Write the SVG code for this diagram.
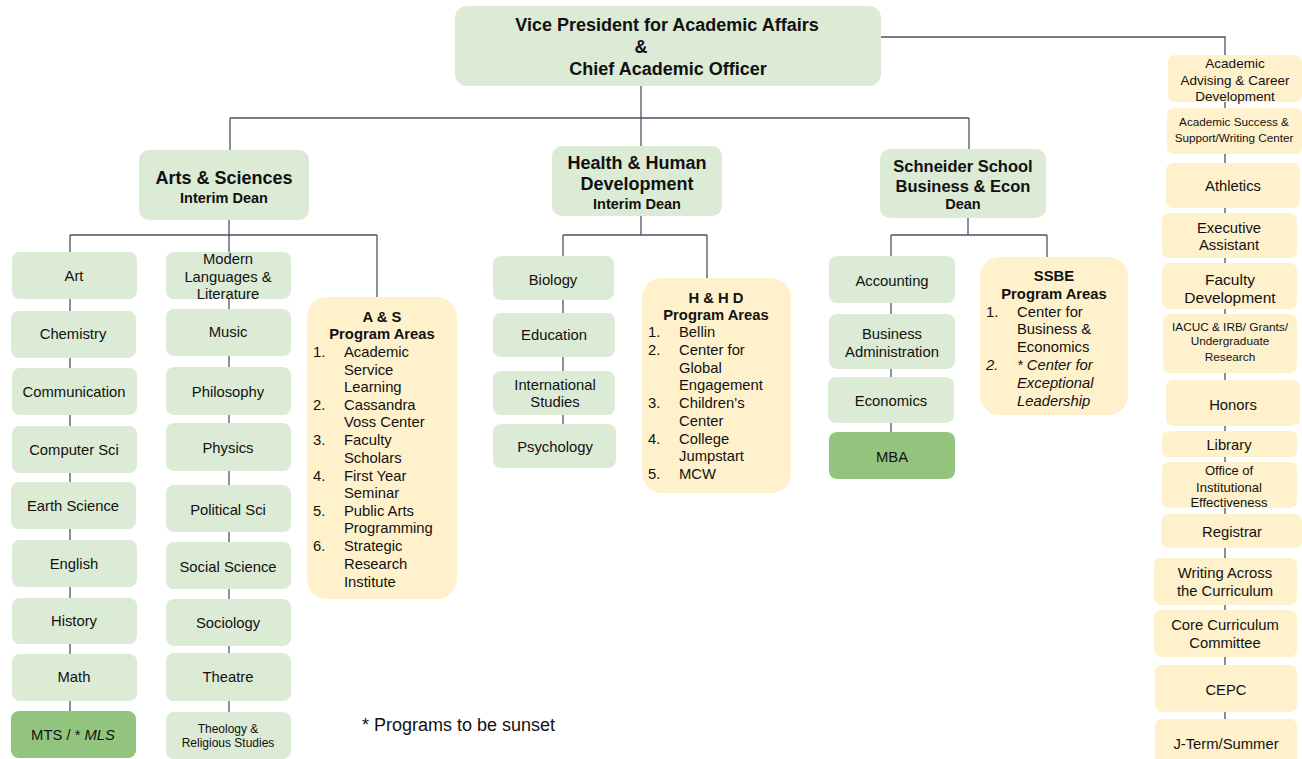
<svg xmlns="http://www.w3.org/2000/svg" width="1302" height="759" viewBox="0 0 1302 759">
<style>
text{font-family:"Liberation Sans",Arial,sans-serif;fill:#111111;text-anchor:middle;dominant-baseline:central}
.g{fill:#dcebd5}
.d{fill:#93c47d}
.y{fill:#fff1cc}
.b{font-weight:bold}
.l{text-anchor:start}
.i{font-style:italic}
.c{fill:none;stroke:#4a5364;stroke-width:1.3}
</style>
<rect width="1302" height="759" fill="#ffffff"/>
<g id="connectors" class="c">
<path d="M881 37H1225V759"/>
<path d="M641 86V118M230 118H969M230 118V150M641 118V146M969 118V149"/>
<path d="M229 220V235M70 235H377M70 235V711M229 235V712M377 235V297"/>
<path d="M641 216V235M563 235H707M563 235V424M707 235V278"/>
<path d="M968 218V235M891 235H1047M891 235V432M1047 235V257"/>
</g>
<g id="vpaa"><rect class="g" x="455" y="6" width="426" height="80" rx="12"/>
<text class="b" x="667" y="25" font-size="18">Vice President for Academic Affairs</text>
<text class="b" x="641" y="47" font-size="18">&amp;</text>
<text class="b" x="668" y="69" font-size="18">Chief Academic Officer</text></g>
<g id="as"><rect class="g" x="139" y="150" width="170" height="70" rx="10"/>
<text class="b" x="224" y="178" font-size="18">Arts &amp; Sciences</text>
<text class="b" x="224" y="198" font-size="14.5">Interim Dean</text></g>
<g id="hhd"><rect class="g" x="552" y="146" width="170" height="70" rx="10"/>
<text class="b" x="637" y="163" font-size="18">Health &amp; Human</text>
<text class="b" x="637" y="184" font-size="18">Development</text>
<text class="b" x="637" y="204" font-size="14.5">Interim Dean</text></g>
<g id="ssbe-dean"><rect class="g" x="880" y="149" width="166" height="69" rx="10"/>
<text class="b" x="963" y="166" font-size="16.5">Schneider School</text>
<text class="b" x="963" y="186" font-size="16.5">Business &amp; Econ</text>
<text class="b" x="963" y="204" font-size="14.5">Dean</text></g>
<g font-size="14.8">
<g id="art"><rect class="g" x="12" y="252" width="125" height="47" rx="8"/><text x="74" y="276">Art</text></g>
<g id="chem"><rect class="g" x="11" y="311" width="125" height="47" rx="8"/><text x="73" y="334">Chemistry</text></g>
<g id="comm"><rect class="g" x="12" y="368" width="125" height="47" rx="8"/><text x="74" y="392">Communication</text></g>
<g id="cs"><rect class="g" x="12" y="426" width="125" height="47" rx="8"/><text x="74" y="450">Computer Sci</text></g>
<g id="earth"><rect class="g" x="11" y="482" width="125" height="47" rx="8"/><text x="73" y="506">Earth Science</text></g>
<g id="english"><rect class="g" x="12" y="540" width="125" height="47" rx="8"/><text x="74" y="564">English</text></g>
<g id="history"><rect class="g" x="12" y="598" width="125" height="46" rx="8"/><text x="74" y="621">History</text></g>
<g id="math"><rect class="g" x="12" y="654" width="125" height="47" rx="8"/><text x="74" y="677">Math</text></g>
<g id="mts"><rect class="d" x="11" y="711" width="125" height="47" rx="8"/><text x="73" y="735">MTS / * <tspan class="i">MLS</tspan></text></g>
<g id="modlang"><rect class="g" x="166" y="252" width="125" height="47" rx="8"/><text x="228" y="259">Modern</text><text x="228" y="277">Languages &amp;</text><text x="228" y="294">Literature</text></g>
<g id="music"><rect class="g" x="166" y="309" width="125" height="47" rx="8"/><text x="228" y="332">Music</text></g>
<g id="phil"><rect class="g" x="166" y="367" width="125" height="48" rx="8"/><text x="228" y="392">Philosophy</text></g>
<g id="physics"><rect class="g" x="166" y="423" width="125" height="48" rx="8"/><text x="228" y="448">Physics</text></g>
<g id="polisci"><rect class="g" x="166" y="485" width="125" height="47" rx="8"/><text x="228" y="510">Political Sci</text></g>
<g id="socsci"><rect class="g" x="166" y="542" width="125" height="47" rx="8"/><text x="228" y="567">Social Science</text></g>
<g id="soc"><rect class="g" x="166" y="599" width="125" height="47" rx="8"/><text x="228" y="623">Sociology</text></g>
<g id="theatre"><rect class="g" x="166" y="653" width="125" height="48" rx="8"/><text x="228" y="677">Theatre</text></g>
<g id="theology"><rect class="g" x="166" y="712" width="125" height="47" rx="8"/><text x="228" y="729" font-size="12">Theology &amp;</text><text x="228" y="743" font-size="12">Religious Studies</text></g>
<g id="as-prog"><rect class="y" x="307" y="297" width="150" height="302" rx="20"/>
<text class="b" x="382" y="317">A &amp; S</text><text class="b" x="382" y="334">Program Areas</text>
<text class="l" x="313" y="352">1.</text><text class="l" x="344" y="352">Academic</text><text class="l" x="344" y="370">Service</text><text class="l" x="344" y="387">Learning</text>
<text class="l" x="313" y="405">2.</text><text class="l" x="344" y="405">Cassandra</text><text class="l" x="344" y="422">Voss Center</text>
<text class="l" x="313" y="440">3.</text><text class="l" x="344" y="440">Faculty</text><text class="l" x="344" y="458">Scholars</text>
<text class="l" x="313" y="476">4.</text><text class="l" x="344" y="476">First Year</text><text class="l" x="344" y="493">Seminar</text>
<text class="l" x="313" y="511">5.</text><text class="l" x="344" y="511">Public Arts</text><text class="l" x="344" y="528">Programming</text>
<text class="l" x="313" y="546">6.</text><text class="l" x="344" y="546">Strategic</text><text class="l" x="344" y="564">Research</text><text class="l" x="344" y="582">Institute</text></g>
<g id="bio"><rect class="g" x="493" y="256" width="121" height="44" rx="8"/><text x="553" y="280">Biology</text></g>
<g id="edu"><rect class="g" x="493" y="313" width="122" height="44" rx="8"/><text x="554" y="335">Education</text></g>
<g id="intl"><rect class="g" x="493" y="371" width="122" height="44" rx="8"/><text x="555" y="385">International</text><text x="555" y="402">Studies</text></g>
<g id="psych"><rect class="g" x="493" y="424" width="123" height="44" rx="8"/><text x="555" y="447">Psychology</text></g>
<g id="hhd-prog"><rect class="y" x="642" y="278" width="149" height="215" rx="20"/>
<text class="b" x="716" y="298">H &amp; H D</text><text class="b" x="716" y="315">Program Areas</text>
<text class="l" x="648" y="332">1.</text><text class="l" x="679" y="332">Bellin</text>
<text class="l" x="648" y="350">2.</text><text class="l" x="679" y="350">Center for</text><text class="l" x="679" y="368">Global</text><text class="l" x="679" y="385">Engagement</text>
<text class="l" x="648" y="403">3.</text><text class="l" x="679" y="403">Children’s</text><text class="l" x="679" y="421">Center</text>
<text class="l" x="648" y="439">4.</text><text class="l" x="679" y="439">College</text><text class="l" x="679" y="456">Jumpstart</text>
<text class="l" x="648" y="474">5.</text><text class="l" x="679" y="474">MCW</text></g>
<g id="acct"><rect class="g" x="829" y="256" width="126" height="47" rx="8"/><text x="892" y="281">Accounting</text></g>
<g id="busadm"><rect class="g" x="829" y="314" width="126" height="55" rx="8"/><text x="892" y="334">Business</text><text x="892" y="352">Administration</text></g>
<g id="econ"><rect class="g" x="828" y="377" width="126" height="46" rx="8"/><text x="891" y="401">Economics</text></g>
<g id="mba"><rect class="d" x="829" y="432" width="126" height="47" rx="8"/><text x="892" y="457">MBA</text></g>
<g id="ssbe-prog"><rect class="y" x="980" y="257" width="148" height="158" rx="20"/>
<text class="b" x="1054" y="276">SSBE</text><text class="b" x="1054" y="294">Program Areas</text>
<text class="l" x="986" y="312">1.</text><text class="l" x="1017" y="312">Center for</text><text class="l" x="1017" y="329">Business &amp;</text><text class="l" x="1017" y="347">Economics</text>
<text class="l i" x="986" y="365">2.</text><text class="l i" x="1017" y="365">* Center for</text><text class="l i" x="1017" y="383">Exceptional</text><text class="l i" x="1017" y="401">Leadership</text></g>
<g id="advising"><rect class="y" x="1168" y="55" width="134" height="47" rx="7"/><text x="1235" y="63" font-size="13.5">Academic</text><text x="1235" y="80" font-size="13.5">Advising &amp; Career</text><text x="1235" y="96" font-size="13.5">Development</text></g>
<g id="success"><rect class="y" x="1167" y="108" width="135" height="46" rx="7"/><text x="1234" y="121" font-size="11.7">Academic Success &amp;</text><text x="1234" y="137" font-size="11.7">Support/Writing Center</text></g>
<g id="athletics"><rect class="y" x="1166" y="163" width="134" height="45" rx="7"/><text x="1233" y="186">Athletics</text></g>
<g id="exec"><rect class="y" x="1162" y="213" width="135" height="45" rx="7"/><text x="1229" y="228">Executive</text><text x="1229" y="245">Assistant</text></g>
<g id="facdev"><rect class="y" x="1162" y="263" width="135" height="46" rx="7"/><text x="1230" y="279" font-size="15.5">Faculty</text><text x="1230" y="297" font-size="15.5">Development</text></g>
<g id="iacuc"><rect class="y" x="1163" y="314" width="134" height="59" rx="7"/><text x="1230" y="327" font-size="11.8">IACUC &amp; IRB/ Grants/</text><text x="1230" y="341" font-size="11.8">Undergraduate</text><text x="1230" y="357" font-size="11.8">Research</text></g>
<g id="honors"><rect class="y" x="1166" y="380" width="134" height="46" rx="7"/><text x="1233" y="405">Honors</text></g>
<g id="library"><rect class="y" x="1162" y="431" width="135" height="26" rx="6"/><text x="1229" y="445">Library</text></g>
<g id="oie"><rect class="y" x="1162" y="462" width="135" height="46" rx="7"/><text x="1229" y="470" font-size="13">Office of</text><text x="1229" y="487" font-size="13">Institutional</text><text x="1229" y="502" font-size="13">Effectiveness</text></g>
<g id="registrar"><rect class="y" x="1161" y="514" width="141" height="34" rx="7"/><text x="1232" y="532">Registrar</text></g>
<g id="wac"><rect class="y" x="1154" y="558" width="143" height="47" rx="7"/><text x="1225" y="573">Writing Across</text><text x="1225" y="591">the Curriculum</text></g>
<g id="core"><rect class="y" x="1154" y="610" width="143" height="47" rx="7"/><text x="1225" y="625">Core Curriculum</text><text x="1225" y="643">Committee</text></g>
<g id="cepc"><rect class="y" x="1155" y="665" width="142" height="47" rx="7"/><text x="1226" y="690">CEPC</text></g>
<g id="jterm"><rect class="y" x="1155" y="719" width="142" height="50" rx="7"/><text x="1226" y="744">J-Term/Summer</text></g>
</g>
<text x="362" y="725" font-size="18" class="l">* Programs to be sunset</text>
</svg>
